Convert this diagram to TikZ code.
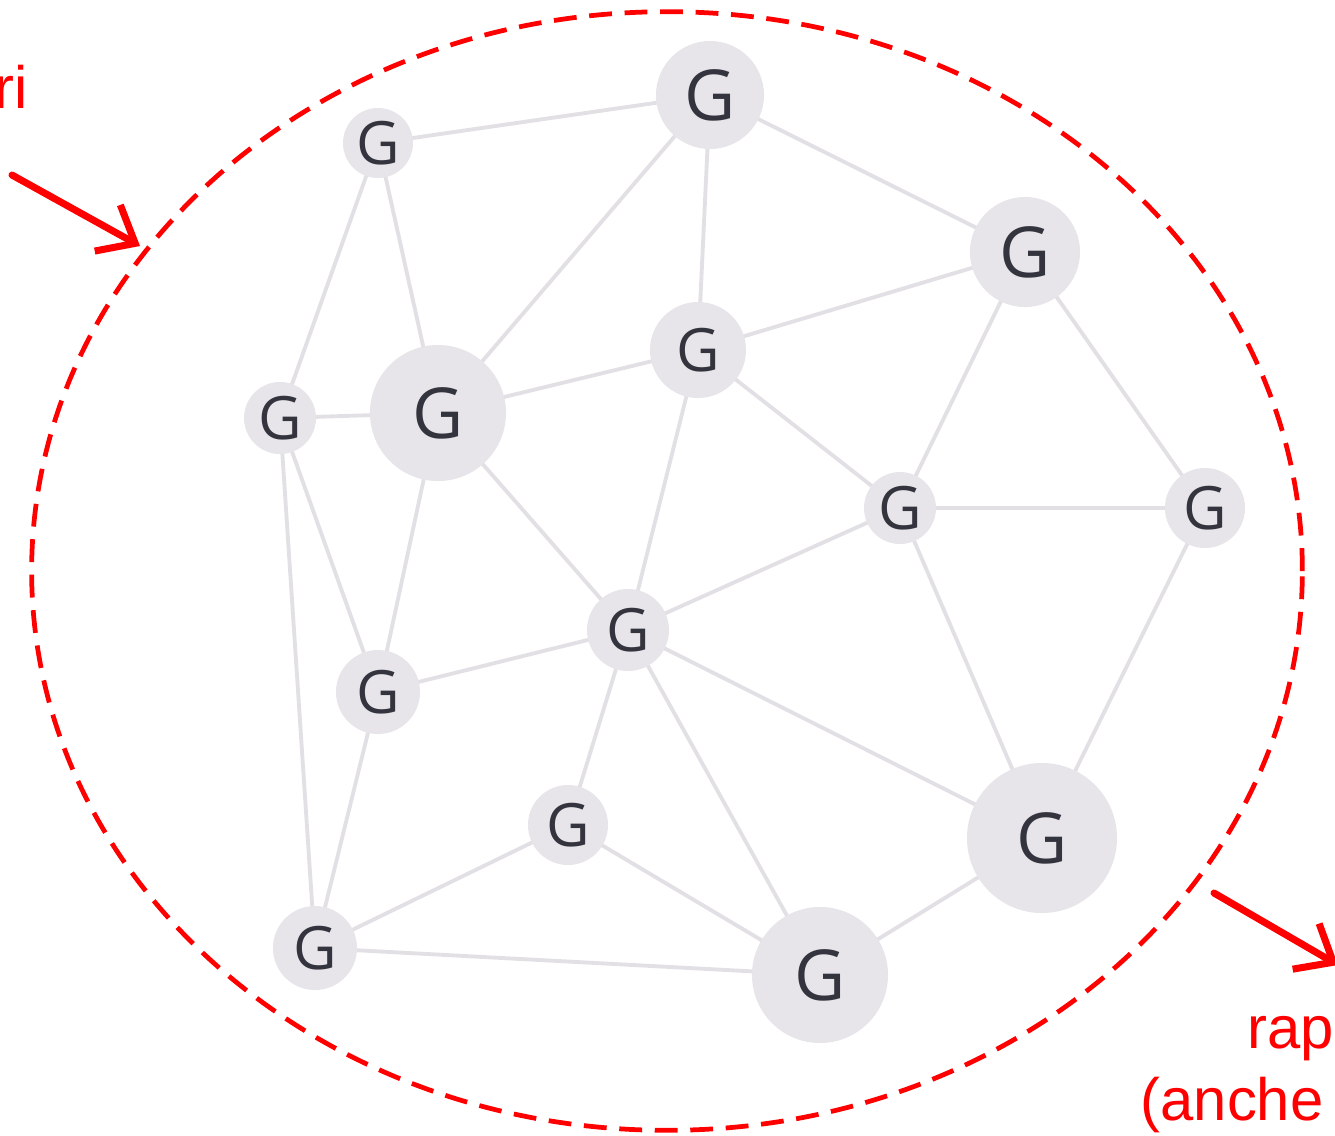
\documentclass[tikz,border=0pt]{standalone}
\usepackage{fontspec}
\newfontfamily\gfont{Open Sans}
\newfontfamily\handfont{Liberation Sans}
\usetikzlibrary{arrows.meta,backgrounds,shapes.geometric}
\definecolor{nodefill}{RGB}{231,229,233}
\definecolor{edgecol}{RGB}{226,224,228}
\definecolor{gtext}{RGB}{52,52,62}
\tikzset{
  gnode/.style={circle, fill=nodefill, inner sep=0pt, text=gtext, font=\gfont\fontsize{17}{17}\selectfont},
  gbig/.style={gnode, font=\gfont\fontsize{20}{20}\selectfont},
  edge/.style={draw=edgecol, line width=1.1pt},
  redarrow/.style={draw=red, line width=2pt, line cap=round, -{Straight Barb[length=9pt,width=15pt,line width=2pt]}},
  redtext/.style={text=red, font=\handfont\fontsize{17}{20}\selectfont, inner sep=0pt, anchor=base west}
}
\begin{document}
\begin{tikzpicture}[x=0.01cm,y=-0.01cm]
\useasboundingbox (0,0) rectangle (1335,1135);
\clip (0,0) rectangle (1335,1135);
% nodes
\node[gbig, minimum size=1.08cm] (A) at (710,95) {G};
\node[gnode, minimum size=0.70cm] (B) at (378,143) {G};
\node[gbig, minimum size=1.10cm] (C) at (1025,252) {G};
\node[gnode, minimum size=0.96cm] (D) at (698,350) {G};
\node[gnode, minimum size=0.72cm] (E) at (280,418) {G};
\node[gbig, minimum size=1.36cm] (F) at (438,413) {G};
\node[gnode, minimum size=0.72cm] (H) at (900,508) {G};
\node[gnode, minimum size=0.80cm] (I) at (1205,508) {G};
\node[gnode, minimum size=0.82cm] (J) at (628,630) {G};
\node[gnode, minimum size=0.84cm] (K) at (378,692) {G};
\node[gnode, minimum size=0.80cm] (L) at (568,825) {G};
\node[gbig, minimum size=1.50cm] (M) at (1042,838) {G};
\node[gnode, minimum size=0.84cm] (N) at (315,948) {G};
\node[gbig, minimum size=1.36cm] (O) at (820,975) {G};
\begin{pgfonlayer}{background}
\foreach \a/\b in {B/A, A/D, A/C, A/F, B/F, B/E, E/F, E/K, E/N, F/K, F/D, F/J, D/C, D/J, D/H, C/H, C/I, H/I, H/J, H/M, I/M, J/K, J/L, J/O, J/M, K/N, L/N, L/O, N/O, M/O}
  \draw[edge] (\a.center) -- (\b.center);
\end{pgfonlayer}
% red dashed boundary
\node[draw=red, line width=1.35pt, dash pattern=on 6.5pt off 3.6pt, ellipse, inner sep=0pt, minimum width=12.70cm, minimum height=11.18cm] (region) at (667,571) {};
% arrows
\coordinate (a1s) at (12,175);
\coordinate (a1e) at (140,246);
\draw[redarrow] (a1s) -- (a1e);
\coordinate (a2s) at (1214,893);
\coordinate (a2e) at (1338,965);
\draw[redarrow] (a2s) -- (a2e);
% texts
\node[redtext, anchor=base east] (t1) at (28,108) {ri};
\node[redtext] (t2) at (1247,1048) {rapp};
\node[redtext] (t3) at (1140,1120) {(anche};
\end{tikzpicture}
\end{document}
